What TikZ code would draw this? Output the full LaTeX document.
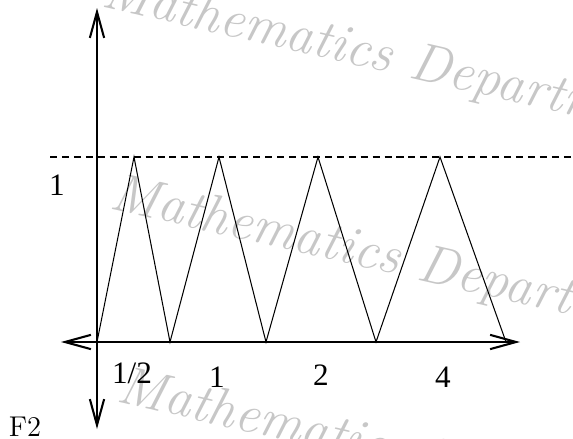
\documentclass[tikz,border=0pt]{standalone}
\usepackage{fontspec}
\newfontfamily\timesfont{Liberation Serif}
\usetikzlibrary{arrows.meta}

\begin{document}
\begin{tikzpicture}[x=0.385pt, y=0.385pt, line width=0.4pt,
  axis/.style={line width=0.8pt, {Straight Barb[length=10pt, width=5.5pt]}-{Straight Barb[length=10pt, width=5.5pt]}},
  wmark/.style={anchor=base west, rotate=-13, inner sep=0pt, text=black!22, font=\fontsize{21}{25}\selectfont\itshape},
  lbl/.style={inner sep=0pt, font=\fontsize{12}{14}\selectfont\timesfont}]
  \useasboundingbox (0,0) rectangle (573,438);
  % watermark
  \node[wmark] (wm1) at (100,432) {Mathematics Department};
  \node[wmark] (wm2) at (108,230) {Mathematics Department};
  \node[wmark] (wm3) at (115,37) {Mathematics Department};
  % axes
  \coordinate (xl) at (61,96);
  \coordinate (xr) at (520,96);
  \coordinate (yb) at (97,9);
  \coordinate (yt) at (97,430);
  \draw[axis] (xl) -- (xr);
  \draw[axis] (yb) -- (yt);
  % level 1
  \draw[line width=0.65pt, dash pattern=on 2.7pt off 1.9pt] (50,281) -- (573,281);
  % zigzag
  \draw (97,96) -- (134,281) -- (170,96) -- (219,281) -- (266,96)
    -- (318,281) -- (376,96) -- (440,281) -- (506,96);
  % labels
  \node[lbl] (one) at (57,253) {1};
  \node[lbl] (half) at (132,65) {1/2};
  \node[lbl] (t1) at (217,61) {1};
  \node[lbl] (t2) at (321,63) {2};
  \node[lbl] (t4) at (443,61) {4};
  \node[inner sep=0pt, font=\fontsize{11}{13}\selectfont] (fig) at (25,11) {F2};
\end{tikzpicture}
\end{document}
